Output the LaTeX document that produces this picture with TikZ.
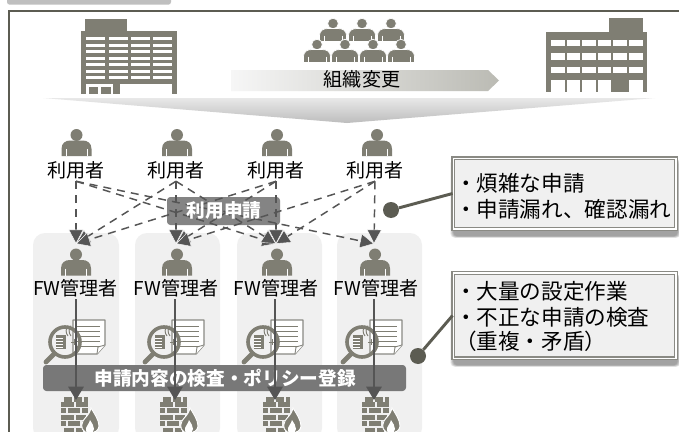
\documentclass[tikz,border=0pt]{standalone}
\usepackage{fontspec}
\setmainfont{Noto Sans CJK JP}
\usetikzlibrary{arrows.meta}
\definecolor{icon}{HTML}{7F7E73}
\definecolor{dark}{HTML}{5C5C52}
\definecolor{arrowc}{HTML}{555555}
\definecolor{panel}{HTML}{F0F0F0}
\definecolor{barc}{HTML}{787878}
\definecolor{boxc}{HTML}{848484}
\definecolor{frm}{HTML}{8A8A84}
\definecolor{arrowend}{HTML}{BBBBB4}
\tikzset{
  x=.75pt,y=-.75pt,
  person/.pic={
    \fill[icon] (0,6) circle[radius=6];
    \fill[icon] (-15,27) -- (-15,20) .. controls (-15,14) and (-11,11.5) .. (-6,11.5) -- (6,11.5) .. controls (11,11.5) and (15,14) .. (15,20) -- (15,27) -- cycle;
    \draw[white,line width=.5pt] (-10.5,20) -- (-10.5,27) (10.5,20) -- (10.5,27);
  },
  miniperson/.pic={
    \fill[icon,draw=white,line width=.5pt] (0,5) circle[radius=5.3];
    \fill[icon,draw=white,line width=.5pt] (-13.5,23) -- (-13.5,17) .. controls (-13.5,12.5) and (-10,10) .. (-5,10) -- (5,10) .. controls (10,10) and (13.5,12.5) .. (13.5,17) -- (13.5,23) -- cycle;
    \draw[white,line width=.4pt] (-9,17) -- (-9,23) (9,17) -- (9,23);
  },
  docicon/.pic={
    \draw[frm,fill=white,line width=1pt,line join=round] (0,0) -- (32,0) -- (32,25) -- (24,34) -- (0,34) -- cycle;
    \draw[frm,fill=white,line width=.7pt] (24,34) -- (25,27) -- (32,25);
    \foreach \r in {6,11,16,21,26} \draw[icon,line width=.7pt] (4,\r) -- (27,\r);
  },
  lensicon/.pic={
    \draw[icon,line cap=round,line width=3.6pt] (-11,12) -- (-19,20);
    \fill[icon] (-9,-7) rectangle (1,7);
    \foreach \r in {-4,-1,2,5} \draw[white,line width=.45pt] (-9,\r) -- (-2,\r);
    \draw[icon,line width=.7pt] (3,-6) arc[start angle=-40,end angle=40,radius=-8];
    \draw[icon,line width=.7pt] (6,-6) arc[start angle=-40,end angle=40,radius=-8];
    \draw[icon,line width=.6pt] (9,-3) -- (9,3) (6,0) -- (12,0);
    \draw[icon,line width=2.7pt] (0,0) circle[radius=15];
  },
  wallicon/.pic={
    \foreach \yy/\xa/\xb in {0/3/11,0/13/21,0/23/27,
       4.6/0/13,4.6/15/27,
       11.2/0/5,11.2/7/19,11.2/21/27,
       17.8/0/13,17.8/15/25,
       24.4/0/5,24.4/7/19,24.4/21/23,
       31/3/13,31/15/22}
      \fill[icon] (\xa,\yy) rectangle ++(\xb-\xa,5);
    \fill[icon,draw=white,line width=.7pt] (28.5,36) .. controls (21,36) and (19,29) .. (22,24) .. controls (24,20) and (28,19) .. (30,11) .. controls (33,16) and (38,23) .. (38,29) .. controls (38,33) and (34,36) .. (28.5,36) -- cycle;
    \fill[white] (28.5,36) .. controls (25,36) and (24,33) .. (25,31) .. controls (26,28) and (28,27) .. (29,23) .. controls (31,26) and (33,29) .. (33,32) .. controls (33,35) and (31,36) .. (28.5,36) -- cycle;
  },
  panelbox/.style={fill=panel,rounded corners=9pt},
  label/.style={font=\fontsize{14.3}{16}\selectfont,inner sep=0pt,text height=10pt,text depth=2pt,minimum height=13.5pt},
  hub/.style={inner sep=0pt,minimum width=10pt,minimum height=27pt},
  wallnode/.style={inner sep=0pt,minimum width=10pt,minimum height=10pt},
  req/.style={draw=arrowc,line width=1.1pt,dash pattern=on 6pt off 4.5pt,
     -{Triangle[length=10.5pt,width=11pt,color=white,fill=arrowc,line width=.3pt]}},
  flow/.style={draw=arrowc,line width=1.4pt,-{Triangle[length=10pt,width=11.5pt,fill=arrowc]}},
  callout/.style={draw=frm,line width=.9pt,double=white,double distance=1pt,fill=panel,inner sep=0pt,
     align=left,font=\fontsize{16.2}{20}\selectfont,text width=164pt,minimum width=167pt},
  bartext/.style={text=white,font=\fontsize{14}{16}\selectfont\bfseries,inner sep=0pt},
  dot/.style={circle,fill=dark,inner sep=0pt,minimum size=12pt},
  lead/.style={draw=dark,line width=2.2pt},
}
\begin{document}
\begin{tikzpicture}
\useasboundingbox (0,0) rectangle (679,432);
\clip (0,0) rectangle (679,432);
\fill[white] (0,0) rectangle (679,432);
% tab and frame
\fill[gray!50,rounded corners=2pt] (7,-8) rectangle (171,4.7);
\draw[dark,line width=1.2pt] (9,440) -- (9,11) -- (690,11);
% left building
\fill[icon] (85,19) rectangle (127,31);
\fill[icon] (81,31) rectangle (177,94);
\foreach \c in {86,108.5,130.5,153}
  \foreach \r in {37,43.5,50,56.5,63,69.5,76}
    \fill[white] (\c,\r) rectangle ++(19,3.3);
\fill[white] (86,84) rectangle (113,94);
\fill[icon] (88.5,86.5) rectangle (98,94);
\fill[icon] (101,86.5) rectangle (111,94);
\fill[white] (120,84) rectangle (172,94);
% right building
\fill[icon] (609,18) rectangle (643,32);
\fill[icon] (546,32) rectangle (647,92);
\foreach \c in {551,566.5,582,597.5,613,629}
  \foreach \r in {39.5,53,66.5}
    \fill[white] (\c,\r) rectangle ++(13.5,6.5);
\foreach \c in {551,566.5,582,597.5}
  \fill[white] (\c,79.5) rectangle ++(13.5,12.5);
\fill[white] (629,79.5) rectangle (643,92);
% people
\foreach \c in {333,362,391} \pic at (\c,18.5) {miniperson};
\foreach \c in {317,345,373,401} \pic at (\c,39.5) {miniperson};
% change arrow
\shade[left color=gray!7,right color=arrowend] (231,70) -- (488,70) -- (499,80.5) -- (488,91) -- (231,91) -- cycle;
\node[label,inner sep=0pt] (chg) at (362,81) {組織変更};
% wedge
\shade[top color=gray!18,bottom color=gray!52] (43,98) -- (655,98) -- (347,123) -- cycle;
% panels
\foreach \a/\b in {33/119,135/220,237/322,337/422}
  \fill[panelbox] (\a,233) rectangle (\b,440);
% persons
\foreach \c in {76.5,177,277,377} \pic at (\c,129) {person};
\foreach \c in {76,177,277,375} \pic at (\c,248.5) {person};
\node[label] (u1) at (76,172) {利用者};
\node[label] (u2) at (176,172) {利用者};
\node[label] (u3) at (276,172) {利用者};
\node[label] (u4) at (375,172) {利用者};
\node[hub] (m1) at (76,262) {};
\node[hub] (m2) at (176,262) {};
\node[hub] (m3) at (276,262) {};
\node[hub] (m4) at (374,262) {};
\node[label] (f1) at (75.5,290) {FW管理者};
\node[label] (f2) at (176,290) {FW管理者};
\node[label] (f3) at (276,290) {FW管理者};
\node[label] (f4) at (376,290) {FW管理者};
% request box
\fill[boxc,rounded corners=2.5pt] (167,197) rectangle (280,225);
\foreach \s/\t in {u1/m1,u1/m3,u1/m4,u2/m1,u2/m2,u2/m3,u3/m1,u3/m2,u3/m3,u4/m2,u4/m3,u4/m4}
  \draw[req] (\s.south) -- (\t.north);
\node[bartext] (reqlabel) at (224,210) {利用申請};
% docs
\foreach \dx in {0,99,198,297} {
  \pic at (73+\dx,320) {docicon};
  \pic at (65+\dx,342) {lensicon};
}
% bar
\fill[barc,rounded corners=2.5pt] (43,365) rectangle (406,391);
\node[bartext] (barlabel) at (225,378) {申請内容の検査・ポリシー登録};
% walls
\pic at (61,397) {wallicon};
\pic at (160,397) {wallicon};
\pic at (263,397) {wallicon};
\pic at (362,397) {wallicon};
\node[wallnode] (w1) at (76,407) {};
\node[wallnode] (w2) at (175,407) {};
\node[wallnode] (w3) at (275,407) {};
\node[wallnode] (w4) at (374,407) {};
\foreach \i in {1,2,3,4}
  \draw[flow] (f\i.south -| w\i.north) -- (w\i.north);
% callouts
\node[dot] (d1) at (391,210) {};
\node[dot] (d2) at (418,356) {};
\foreach \k in {1,...,6} {
  \fill[black,opacity=.07,rounded corners=3pt] (453-\k*.6+1,157+4-\k*.3) rectangle (676+\k*.6+1,230+6+\k*.3);
  \fill[black,opacity=.07,rounded corners=3pt] (453-\k*.6+1,272+4-\k*.3) rectangle (676+\k*.6+1,359+6+\k*.3);
}
\node[callout,minimum height=53pt] (c1) at (564.5,193.5) {\\[-20pt]\rule{0pt}{2pt}\\[-2.2pt]・煩雑な申請\\・申請漏れ、確認漏れ};
\node[callout,minimum height=64pt] (c2) at (564.5,315.5) {\rule{0pt}{3pt}\\[-8pt]・大量の設定作業\\[-.5pt]・不正な申請の検査\\[-2pt]（重複・矛盾）};
\draw[lead] (d1) -- (c1.west);
\draw[lead] (d2) -- (c2.west);
\end{tikzpicture}
\end{document}
